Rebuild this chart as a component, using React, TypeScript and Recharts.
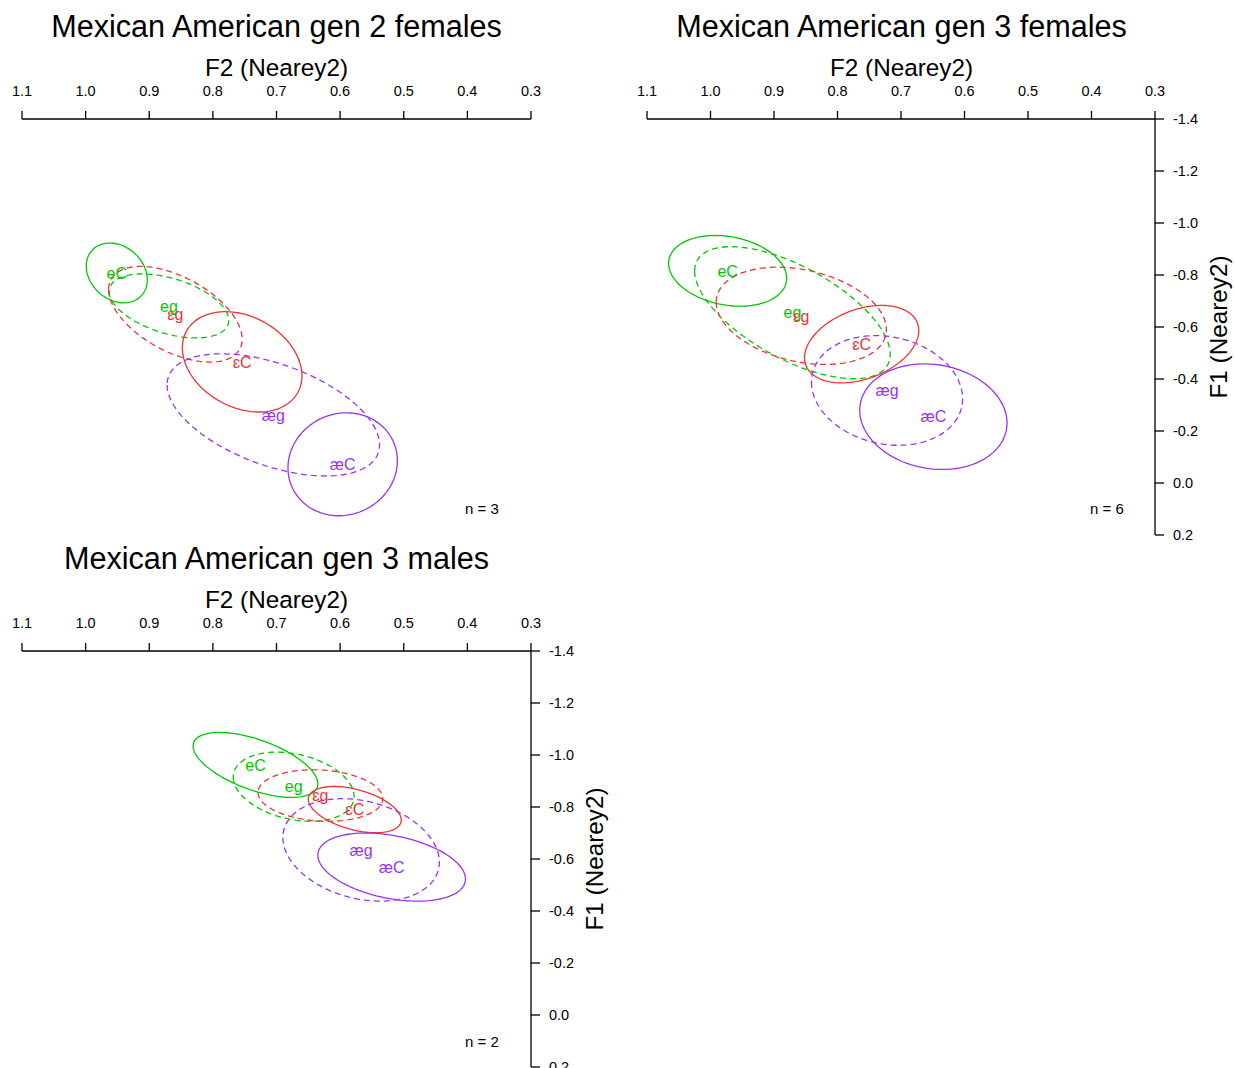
import { ComposedChart, Line, Scatter, XAxis, YAxis } from "recharts";

// vowel categories, same order in every panel
const vowels = ["eC", "eg", "ɛg", "ɛC", "æg", "æC"];

const f2Ticks = [1.1, 1.0, 0.9, 0.8, 0.7, 0.6, 0.5, 0.4, 0.3];
const f1Ticks = [-1.4, -1.2, -1.0, -0.8, -0.6, -0.4, -0.2, 0.0, 0.2];

// Mexican American gen 2 females: means, ellipse half-widths and correlation
const gen2FemF2 = [0.951, 0.869, 0.859, 0.754, 0.705, 0.596];
const gen2FemF1 = [-0.808, -0.681, -0.649, -0.466, -0.262, -0.072];
const gen2FemSpreadF2 = [0.048, 0.094, 0.105, 0.094, 0.167, 0.086];
const gen2FemSpreadF1 = [0.115, 0.123, 0.184, 0.193, 0.235, 0.198];
const gen2FemR = [-0.23, -0.45, -0.52, -0.28, -0.49, 0.07];

// Mexican American gen 3 females
const gen3FemF2 = [0.973, 0.871, 0.857, 0.762, 0.722, 0.649];
const gen3FemF1 = [-0.816, -0.655, -0.643, -0.534, -0.356, -0.255];
const gen3FemSpreadF2 = [0.093, 0.154, 0.134, 0.09, 0.119, 0.116];
const gen3FemSpreadF1 = [0.136, 0.254, 0.187, 0.149, 0.211, 0.203];
const gen3FemR = [-0.21, -0.63, -0.28, 0.35, -0.15, -0.12];

// Mexican American gen 3 males
const gen3MaleF2 = [0.733, 0.673, 0.631, 0.577, 0.567, 0.519];
const gen3MaleF1 = [-0.962, -0.878, -0.844, -0.79, -0.635, -0.569];
const gen3MaleSpreadF2 = [0.098, 0.095, 0.098, 0.073, 0.123, 0.116];
const gen3MaleSpreadF1 = [0.125, 0.133, 0.099, 0.089, 0.197, 0.131];
const gen3MaleR = [-0.58, -0.28, -0.12, -0.45, -0.24, -0.35];

const GREEN = "#00c800";
const RED = "#f23232";
const PURPLE = "#9b32f0";
const vowelStyle: Record<string, { color: string; dash?: string }> = {
  eC: { color: GREEN },
  eg: { color: GREEN, dash: "6 4" },
  "ɛg": { color: RED, dash: "6 4" },
  "ɛC": { color: RED },
  "æg": { color: PURPLE, dash: "6 4" },
  "æC": { color: PURPLE },
};

const FONT = "'Liberation Sans', Arial, Helvetica, sans-serif";

// outline of an ellipse given mean, half-widths and correlation
function ellipse(f2: number, f1: number, s2: number, s1: number, r: number) {
  const q = Math.sqrt(1 - r * r);
  const pts = [];
  for (let k = 0; k <= 120; k++) {
    const t = (k / 120) * 2 * Math.PI;
    pts.push({ x: f2 + s2 * Math.cos(t), y: f1 + s1 * (r * Math.cos(t) + q * Math.sin(t)) });
  }
  return pts;
}

const VowelLabel = (props: any) => {
  const { cx, cy, payload } = props;
  return (
    <text x={cx} y={cy} dy="0.36em" textAnchor="middle" fill={vowelStyle[payload.vowel].color}
      fontSize={16} fontFamily={FONT}>
      {payload.vowel}
    </text>
  );
};

type PanelProps = {
  f2: number[]; f1: number[]; s2: number[]; s1: number[]; r: number[];
  left: number; top: number; width: number; right: number; showF1: boolean;
};

function Panel({ f2, f1, s2, s1, r, left, top, width, right, showF1 }: PanelProps) {
  const centers = vowels.map((v, i) => ({ vowel: v, x: f2[i], y: f1[i] }));
  const tickStyle = { fill: "#000", fontSize: 14.5, fontFamily: FONT };
  return (
    <div style={{ position: "absolute", left, top }}>
      <ComposedChart width={width} height={560} margin={{ top: 0, left: 22, right, bottom: 25 }}>
        <XAxis type="number" dataKey="x" orientation="top" reversed domain={[0.3, 1.1]}
          ticks={f2Ticks} interval={0} allowDataOverflow height={119}
          tickFormatter={(v: number) => v.toFixed(1)} stroke="#000" strokeWidth={1.3}
          tickSize={8} tickMargin={15} tick={tickStyle} />
        <YAxis type="number" dataKey="y" orientation="right" reversed domain={[-1.4, 0.2]}
          ticks={f1Ticks} interval={0} allowDataOverflow width={80} hide={!showF1}
          tickFormatter={(v: number) => v.toFixed(1)} stroke="#000" strokeWidth={1.3}
          tickSize={9} tickMargin={9} tick={{ ...tickStyle, textAnchor: "start" }} />
        {vowels.map((v, i) => (
          <Line key={v} data={ellipse(f2[i], f1[i], s2[i], s1[i], r[i])} dataKey="y" type="linear"
            stroke={vowelStyle[v].color} strokeWidth={1.3} strokeDasharray={vowelStyle[v].dash}
            dot={false} activeDot={false} isAnimationActive={false} />
        ))}
        <Scatter data={centers} dataKey="y" shape={VowelLabel} isAnimationActive={false} />
      </ComposedChart>
    </div>
  );
}

export default function App() {
  const t = { fontFamily: FONT, fill: "#000" };
  return (
    <div style={{ position: "absolute", left: 0, top: 0, width: 1235, height: 1068, overflow: "hidden", background: "#fff" }}>
      <Panel f2={gen2FemF2} f1={gen2FemF1} s2={gen2FemSpreadF2} s1={gen2FemSpreadF1} r={gen2FemR}
        left={0} top={0} width={620} right={89} showF1={false} />
      <Panel f2={gen3FemF2} f1={gen3FemF1} s2={gen3FemSpreadF2} s1={gen3FemSpreadF1} r={gen3FemR}
        left={625} top={0} width={610} right={0} showF1={true} />
      <Panel f2={gen3MaleF2} f1={gen3MaleF1} s2={gen3MaleSpreadF2} s1={gen3MaleSpreadF1} r={gen3MaleR}
        left={0} top={532} width={620} right={9} showF1={true} />
      <svg width={1235} height={1068} style={{ position: "absolute", left: 0, top: 0, pointerEvents: "none" }}>
        <text x={276.5} y={37} textAnchor="middle" fontSize={30.6} {...t}>Mexican American gen 2 females</text>
        <text x={901.5} y={37} textAnchor="middle" fontSize={30.6} {...t}>Mexican American gen 3 females</text>
        <text x={276.5} y={569} textAnchor="middle" fontSize={30.6} {...t}>Mexican American gen 3 males</text>
        <text x={276.5} y={76} textAnchor="middle" fontSize={24.3} {...t}>F2 (Nearey2)</text>
        <text x={901.5} y={76} textAnchor="middle" fontSize={24.3} {...t}>F2 (Nearey2)</text>
        <text x={276.5} y={608} textAnchor="middle" fontSize={24.3} {...t}>F2 (Nearey2)</text>
        <text transform="translate(1227,327) rotate(-90)" textAnchor="middle" fontSize={24.3} {...t}>F1 (Nearey2)</text>
        <text transform="translate(603,859) rotate(-90)" textAnchor="middle" fontSize={24.3} {...t}>F1 (Nearey2)</text>
        <text x={465} y={514} fontSize={15} {...t}>n = 3</text>
        <text x={1090} y={514} fontSize={15} {...t}>n = 6</text>
        <text x={465} y={1047} fontSize={15} {...t}>n = 2</text>
      </svg>
    </div>
  );
}
